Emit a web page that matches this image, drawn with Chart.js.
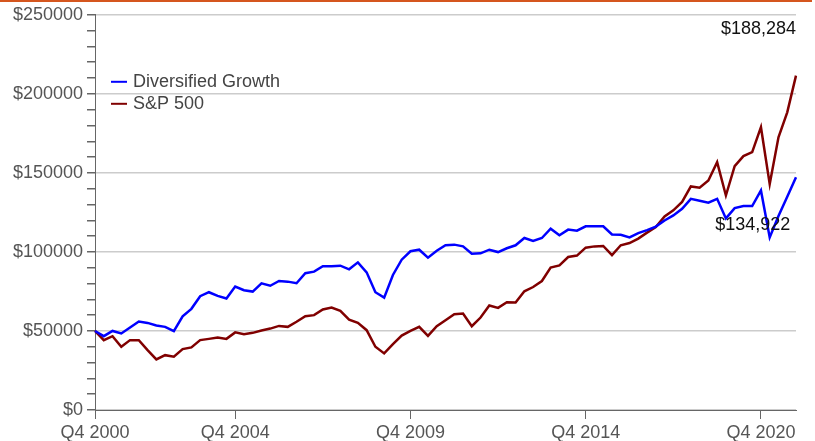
<!DOCTYPE html>
<html>
<head>
<meta charset="utf-8">
<script src="https://cdn.jsdelivr.net/npm/chart.js@4"></script>
<style>
html, body { margin: 0; padding: 0; background: #fff; }
</style>
</head>
<body>
<canvas id="growthChart" width="815" height="441"></canvas>
<script>
// Valeurs trimestrielles
const diversified = [
    50000, 46700, 50000, 48400, 52200, 56000, 55100, 53500, 52600, 49900,
    59300, 64000, 72000, 74500, 72200, 70500, 78100, 75800, 74900, 80100,
    78600, 81600, 81200, 80200, 86500, 87500, 90900, 90900, 91300, 89000,
    93400, 87100, 74500, 71100, 85400, 95100, 100400, 101400, 96400, 100800,
    104200, 104600, 103500, 98800, 99100, 101400, 99900, 102300, 104200, 108800,
    106900, 108800, 114700, 110500, 114100, 113400, 116200, 116200, 116200, 111000,
    110900, 109200, 111900, 113800, 116000, 119900, 123100, 127300, 133600, 132400,
    131100, 133600, 121200, 127700, 129000, 129000, 138900, 109200, 122700, 134922,
    147300
];
const sp500 = [
    50000, 44200, 46700, 40000, 44200, 44200, 37900, 32000, 34700, 33700,
    38500, 39600, 44200, 45000, 45900, 45000, 49100, 48000, 48800, 50300,
    51500, 53200, 52600, 55800, 59300, 60000, 63600, 64800, 62700, 57200,
    55100, 50500, 40000, 35800, 41700, 47100, 50100, 52600, 46900, 53000,
    56800, 60600, 61000, 53000, 58500, 66100, 64600, 68200, 68000, 75100,
    77800, 81600, 90100, 91500, 96800, 97700, 102700, 103500, 103800, 98000,
    104200, 105600, 108400, 112200, 115700, 122500, 126300, 131600, 141400, 140600,
    145200, 156800, 135700, 154300, 160600, 163100, 178900, 142900, 172500, 188284,
    211500
];
const seriesNames = ['Diversified Growth', 'S&P 500'];
const tickIdx = [0, 16, 36, 56, 76];
const tickLabels = ['Q4 2000', 'Q4 2004', 'Q4 2009', 'Q4 2014', 'Q4 2020'];
const labelIdx = 79; // point annoté

const categories = diversified.map((v, i) => {
    const k = tickIdx.indexOf(i);
    return k >= 0 ? tickLabels[k] : '';
});

const FONT = '"Liberation Sans", Arial, sans-serif';
const colors = { diversified: '#0000ff', sp500: '#800000', axis: '#666666', text: '#555555' };

const money = v => '$' + v.toLocaleString('en-US');

// Décor : barre orange, légende interne, étiquettes de valeur
const decorPlugin = {
    id: 'decor',
    beforeDraw(chart) {
        const ctx = chart.ctx;
        ctx.save();
        ctx.fillStyle = '#d5561e';
        ctx.fillRect(0, 0, 812, 2);
        ctx.restore();
    },
    afterDatasetsDraw(chart) {
        const { ctx, chartArea, scales } = chart;
        ctx.save();
        ctx.font = '18px ' + FONT;
        // légende
        ctx.textAlign = 'left';
        ctx.textBaseline = 'middle';
        chart.data.datasets.forEach((ds, i) => {
            const y = chartArea.top + 67 + i * 22;
            ctx.strokeStyle = ds.borderColor;
            ctx.lineWidth = 2;
            ctx.beginPath();
            ctx.moveTo(chartArea.left + 16, y);
            ctx.lineTo(chartArea.left + 32, y);
            ctx.stroke();
            ctx.fillStyle = '#444';
            ctx.fillText(ds.label, chartArea.left + 38, y);
        });
        // valeurs annotées
        ctx.fillStyle = '#111';
        ctx.textAlign = 'right';
        ctx.fillText(money(sp500[labelIdx]), chartArea.right, chartArea.top + 14);
        ctx.fillText(money(diversified[labelIdx]),
            scales.x.getPixelForValue(labelIdx) + 3,
            scales.y.getPixelForValue(diversified[labelIdx]) + 28);
        ctx.restore();
    }
};

new Chart(document.getElementById('growthChart'), {
    type: 'line',
    data: {
        labels: categories,
        datasets: [
            {
                label: seriesNames[0],
                data: diversified,
                borderColor: colors.diversified,
                borderWidth: 2.5,
                pointRadius: 0,
                tension: 0
            },
            {
                label: seriesNames[1],
                data: sp500,
                borderColor: colors.sp500,
                borderWidth: 2.5,
                pointRadius: 0,
                tension: 0
            }
        ]
    },
    options: {
        responsive: false,
        animation: false,
        layout: { padding: { top: 14, right: 19, left: 0, bottom: 0 } },
        plugins: {
            legend: { display: false },
            tooltip: { enabled: false }
        },
        scales: {
            x: {
                offset: false,
                afterFit(scale) { scale.height = 31; },
                border: { color: colors.axis, width: 1 },
                grid: {
                    drawOnChartArea: false,
                    drawTicks: true,
                    tickLength: 9,
                    tickColor: ctx => tickIdx.includes(ctx.index) ? colors.axis : 'transparent'
                },
                ticks: {
                    autoSkip: false,
                    maxRotation: 0,
                    padding: 3,
                    color: colors.text,
                    font: { family: FONT, size: 18 },
                    callback: (v, i) => categories[i]
                }
            },
            y: {
                min: 0,
                max: 250000,
                afterFit(scale) { scale.width = 95; },
                border: { color: colors.axis, width: 1 },
                grid: {
                    color: ctx => (ctx.tick && ctx.tick.value % 50000 === 0) ? '#cccccc' : 'transparent',
                    tickColor: colors.axis,
                    tickLength: 8,
                    lineWidth: 1.5
                },
                ticks: {
                    autoSkip: false,
                    stepSize: 10000,
                    padding: 4,
                    color: colors.text,
                    font: { family: FONT, size: 18 },
                    callback: v => v % 50000 === 0 ? '$' + v : ''
                }
            }
        }
    },
    plugins: [decorPlugin]
});
</script>
</body>
</html>
